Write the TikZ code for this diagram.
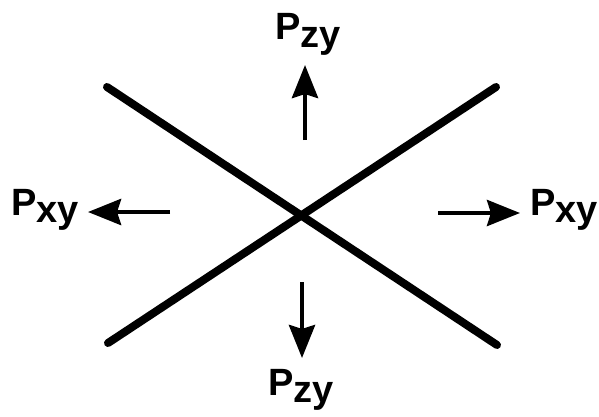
\documentclass[tikz,border=0pt]{standalone}
\usepackage{fontspec}
\setmainfont{Liberation Sans}
\usetikzlibrary{arrows.meta}

\begin{document}
\begin{tikzpicture}[
  x=1pt, y=-1pt,
  font=\bfseries\fontsize{38}{40}\selectfont,
  lbl/.style = {inner sep=0pt, anchor=base west},
  bar/.style = {line width=8pt, line cap=round},
  arr/.style = {-{Stealth[length=33pt, width=26pt, inset=4pt]}, line width=4.5pt}]
\newcommand{\pl}[1]{P\raisebox{-0.21em}{#1}}
\useasboundingbox (0,0) rectangle (599,417);

% the two crossing bars
\coordinate (b1) at (107,87);  \coordinate (b2) at (497,345);
\coordinate (c1) at (108,343); \coordinate (c2) at (496,87);
\draw[bar] (b1) -- (b2);
\draw[bar] (c1) -- (c2);

% labels
\node[lbl] (zu) at (275,40)  {\pl{zy}};
\node[lbl] (zd) at (268,395) {\pl{zy}};
\node[lbl] (xl) at (11,215)  {\pl{xy}};
\node[lbl] (xr) at (530,215) {\pl{xy}};

% force arrows
\coordinate (uT) at (305,140); \coordinate (uH) at (305,65);
\coordinate (dT) at (302,282); \coordinate (dH) at (302,358);
\coordinate (lT) at (170,212); \coordinate (lH) at (88,212);
\coordinate (rT) at (438,213); \coordinate (rH) at (520,213);
\draw[arr] (uT) -- (uH);
\draw[arr] (dT) -- (dH);
\draw[arr] (lT) -- (lH);
\draw[arr] (rT) -- (rH);
\end{tikzpicture}
\end{document}
